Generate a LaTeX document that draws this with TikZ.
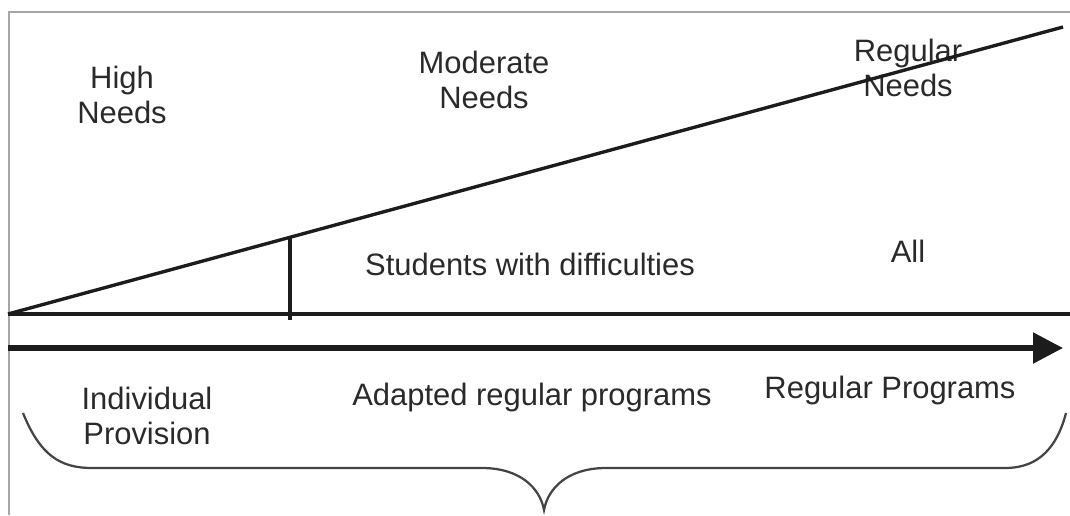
\documentclass[tikz,border=0pt]{standalone}
\usepackage{fontspec}
\setmainfont{Liberation Sans}
\usetikzlibrary{arrows.meta}
\definecolor{txtgray}{HTML}{2A2A2A}
\definecolor{linegray}{HTML}{1C1C1C}
\definecolor{framegray}{HTML}{A6A6A6}
\definecolor{bracegray}{HTML}{444444}

\begin{document}
\begin{tikzpicture}
  [x=0.025cm,y=-0.025cm,every node/.style={align=center,text=txtgray,inner sep=0pt,font=\fontsize{22}{25}\selectfont}]
  \useasboundingbox (0,0) rectangle (1070,515);
  \draw[framegray,line width=1.4pt] (9,515) -- (9,12) -- (1070,12);
  \coordinate (o) at (8,314);
  \coordinate (top) at (1063,27);
  \coordinate (e) at (1070,314);
  \coordinate (t1) at (290,237);
  \coordinate (t2) at (290,320);
  \coordinate (a1) at (8,348);
  \coordinate (a2) at (1063,348);
  \node (hn) at (122,95)  {High\\Needs};
  \node (mn) at (484,80)  {Moderate\\Needs};
  \node (rn) at (908,68)  {Regular\\Needs};
  \node (sd) at (530,264) {Students with difficulties};
  \node (al) at (908,251) {All};
  \node (ip) at (147,416) {Individual\\Provision};
  \node (ar) at (532,397) {Adapted regular programs};
  \node (rp) at (890,390) {Regular Programs};
  \foreach \from/\to in {o/top,o/e,t1/t2}
    \draw[linegray,line width=2.4pt] (\from) -- (\to);
  \draw[linegray,line width=3.8pt,-{Triangle[length=0.75cm,width=0.75cm]}] (a1) -- (a2);
  \draw[bracegray,line width=1.6pt] (23,413) .. controls (40,455) and (60,468) .. (92,468)
    -- (482,468) .. controls (520,468) and (540,488) .. (544,510)
    .. controls (548,488) and (568,468) .. (606,468)
    -- (1005,468) .. controls (1032,468) and (1055,455) .. (1066,413);
\end{tikzpicture}
\end{document}
